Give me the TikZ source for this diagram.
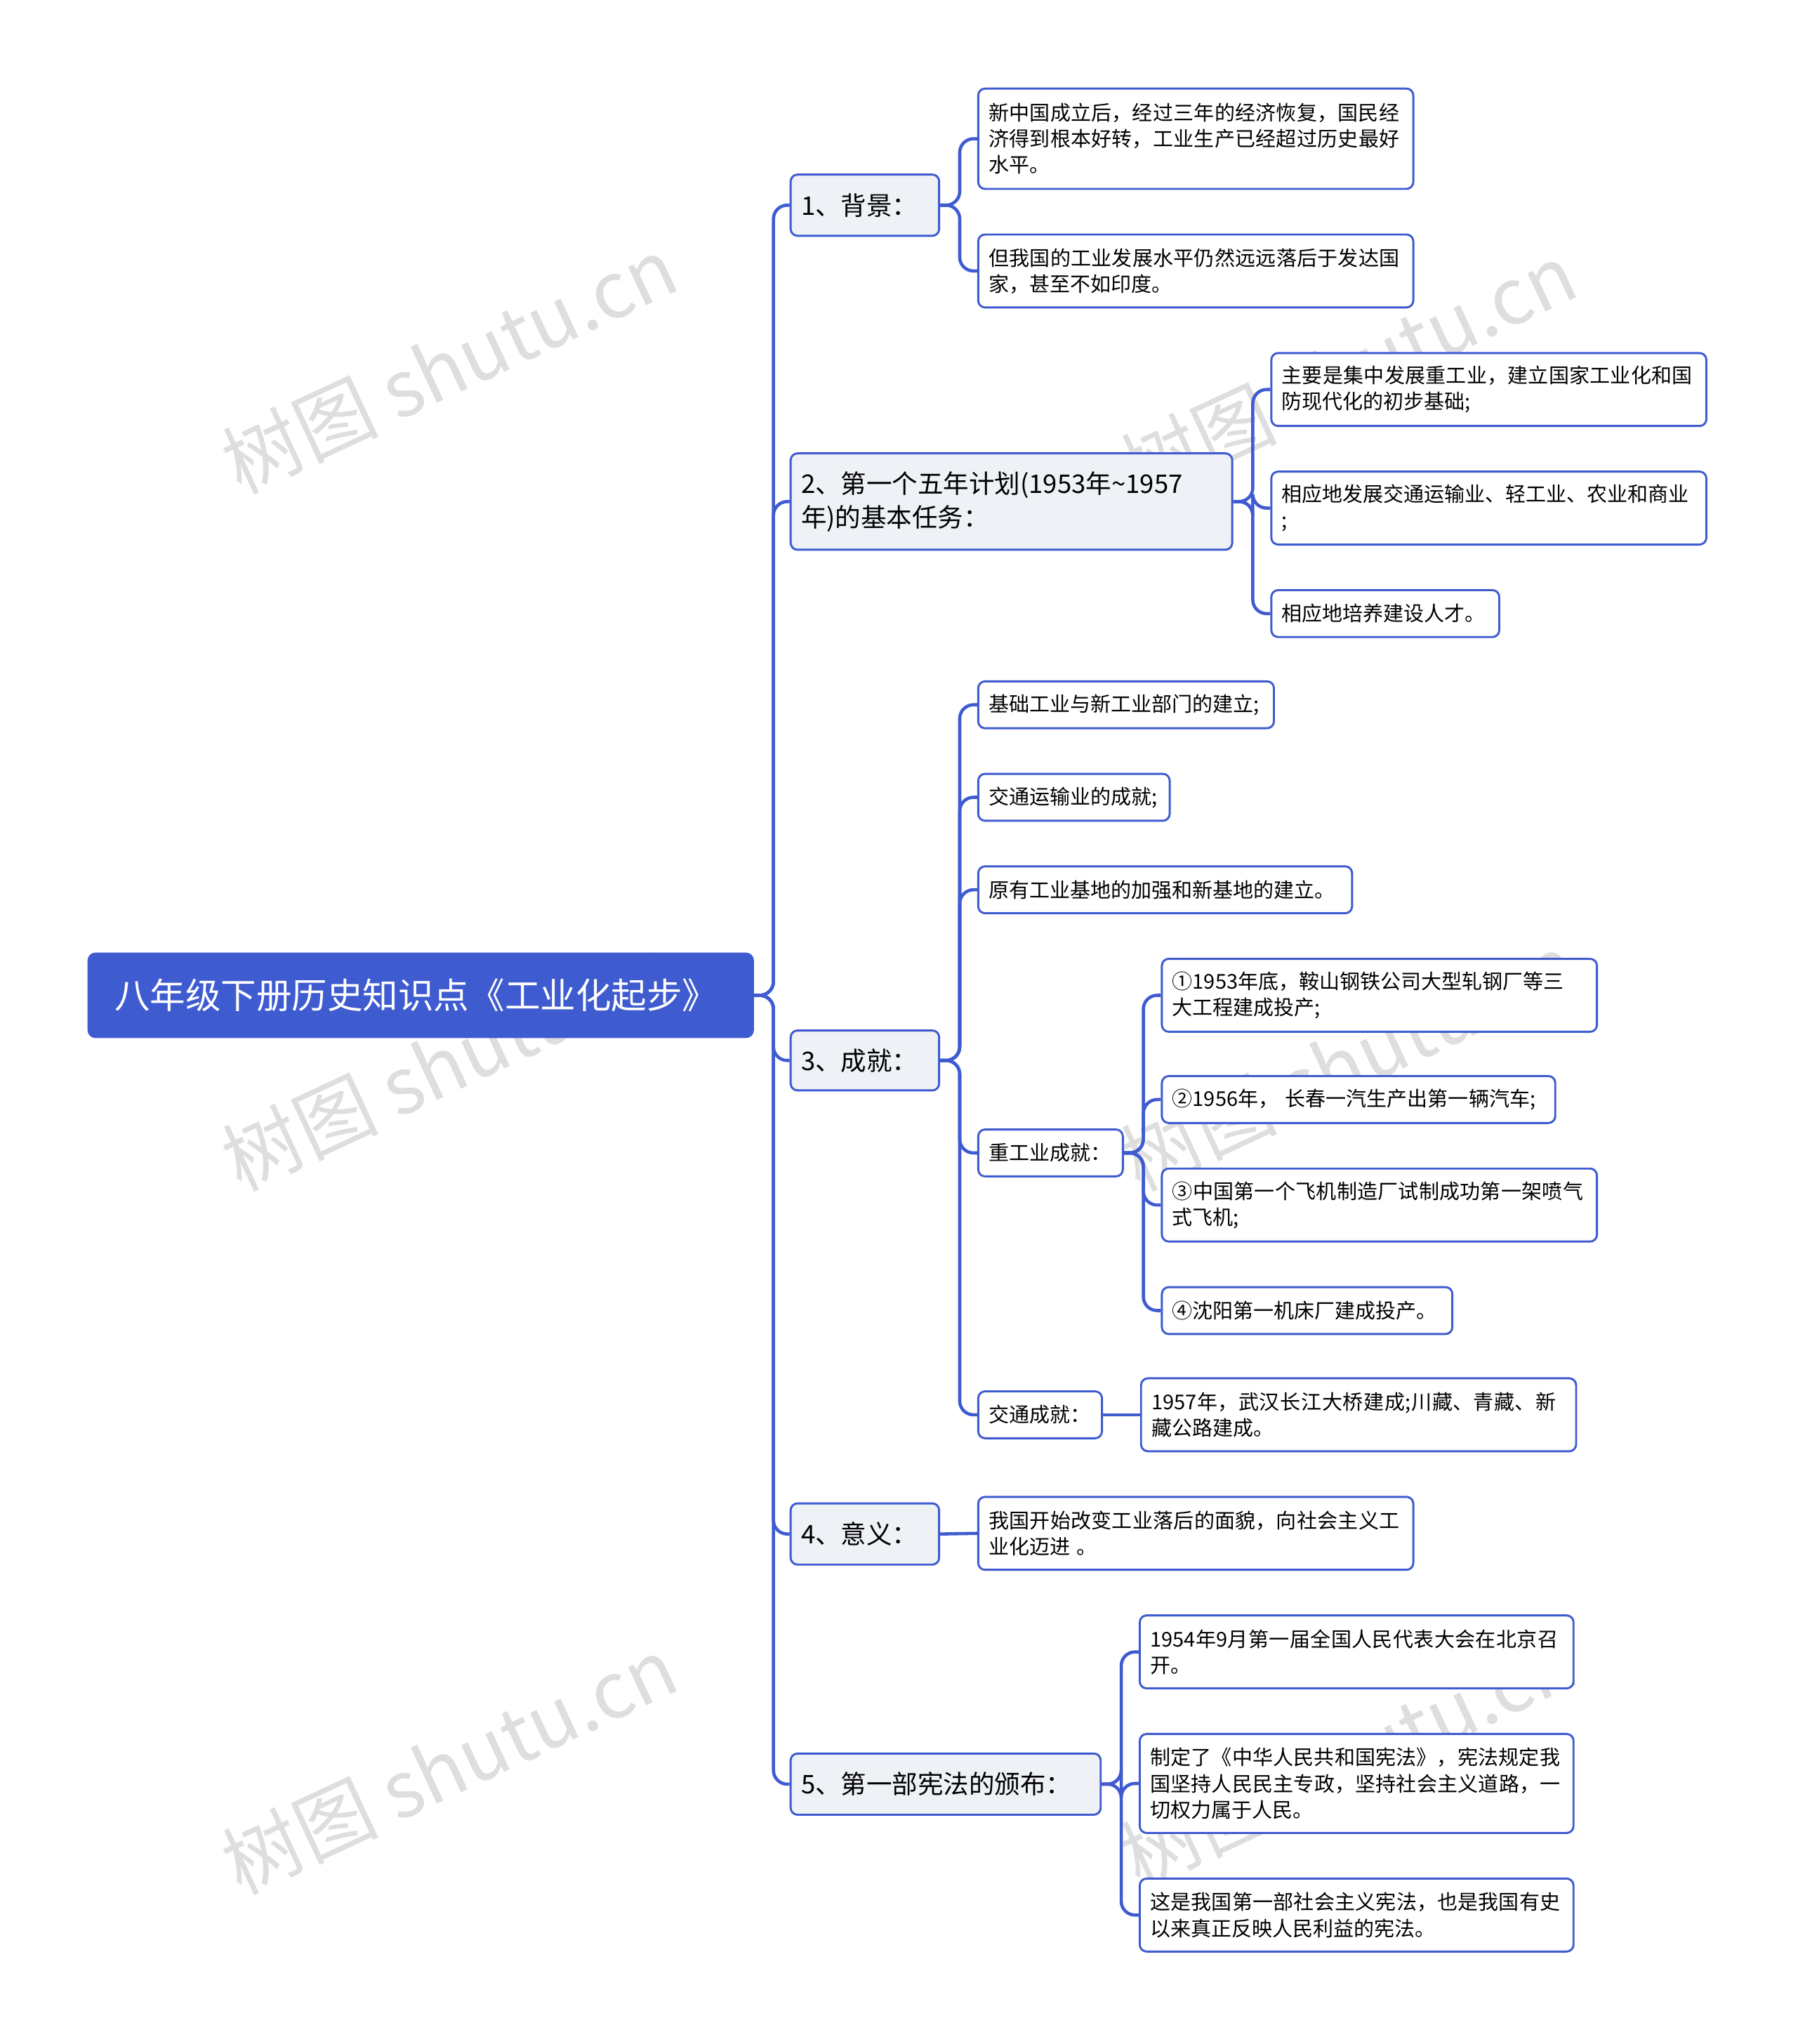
\documentclass[tikz,border=0pt]{standalone}
\usepackage{fontspec}
\setmainfont{Noto Sans CJK SC}
\XeTeXlinebreaklocale "zh"
\XeTeXlinebreakskip=0pt plus 1pt
\definecolor{mmblue}{HTML}{3F5BD0}
\definecolor{mmfill}{HTML}{EEF1F6}
% box from corner (x1,y1) to (x2,y2) in reference pixels
\newcommand\mmbox[7]{%
  \pgfmathsetmacro\ww{(#5-#3)*0.02}\pgfmathsetmacro\hh{(#6-#4)*0.02}%
  \pgfmathsetmacro\tw{\ww-0.32}%
  \node[#1,minimum width=\ww cm,minimum height=\hh cm,text width=\tw cm]
    (#2) at ({(#3+#5)/2},{(#4+#6)/2}) {#7};}
\begin{document}
\begin{tikzpicture}[x=0.02cm,y=-0.02cm,
  leaf/.style={draw=mmblue,fill=white,rounded corners=3pt,line width=0.9pt,
    font=\fontsize{8.9}{11.4}\selectfont,align=left,inner xsep=0.16cm,inner ysep=0pt},
  topic/.style={leaf,fill=mmfill,font=\fontsize{11.2}{14.7}\selectfont},
  root node/.style={leaf,fill=mmblue,draw=mmblue,text=white,font=\fontsize{15.5}{18}\selectfont},
  link/.style={draw=mmblue,line width=1.4pt,rounded corners=6pt},
  wmark/.style={text=black!13,font=\fontsize{34}{34}\selectfont,rotate=25}]
\useasboundingbox (0,0) rectangle (1380,1569);
% watermarks
\foreach \px/\py in {345/280,1035/285,345/815,1035/815,345/1355,1035/1350}
  \node[wmark] at (\px,\py) {树图 shutu.cn};
\mmbox{root node}{root}{68}{732}{578}{796}{\hspace{0.24cm}八年级下册历史知识点《工业化起步》}
\mmbox{topic}{t1}{607}{134}{721}{181}{\mbox{1、背景：}}
\mmbox{topic}{t2}{607}{348}{946}{422}{2、第一个五年计划(1953年\textasciitilde1957\\年)的基本任务：}
\mmbox{topic}{t3}{607}{791}{721}{837}{\mbox{3、成就：}}
\mmbox{topic}{t4}{607}{1154}{721}{1201}{\mbox{4、意义：}}
\mmbox{topic}{t5}{607}{1346}{845}{1393}{\mbox{5、第一部宪法的颁布：}}
\mmbox{leaf}{b1}{751}{68}{1085}{145}{新中国成立后，经过三年的经济恢复，国民经济得到根本好转，工业生产已经超过历史最好水平。}
\mmbox{leaf}{b2}{751}{180}{1085}{236}{但我国的工业发展水平仍然远远落后于发达国家，甚至不如印度。}
\mmbox{leaf}{p1}{976}{271}{1310}{327}{主要是集中发展重工业，建立国家工业化和国防现代化的初步基础;}
\mmbox{leaf}{p2}{976}{362}{1310}{418}{相应地发展交通运输业、轻工业、农业和商业\\;}
\mmbox{leaf}{p3}{976}{453}{1151}{489}{\mbox{相应地培养建设人才。}}
\mmbox{leaf}{a1}{751}{523}{978}{559}{\mbox{基础工业与新工业部门的建立;}}
\mmbox{leaf}{a2}{751}{594}{898}{630}{\mbox{交通运输业的成就;}}
\mmbox{leaf}{a3}{751}{665}{1038}{701}{\mbox{原有工业基地的加强和新基地的建立。}}
\mmbox{leaf}{a4}{751}{867}{862}{903}{\mbox{重工业成就：}}
\mmbox{leaf}{a5}{751}{1068}{846}{1104}{\mbox{交通成就：}}
\mmbox{leaf}{h1}{892}{736}{1226}{792}{①1953年底，鞍山钢铁公司大型轧钢厂等三\\大工程建成投产;}
\mmbox{leaf}{h2}{892}{826}{1194}{862}{\mbox{②1956年，\ 长春一汽生产出第一辆汽车;}}
\mmbox{leaf}{h3}{892}{897}{1226}{953}{③中国第一个飞机制造厂试制成功第一架喷气式飞机;}
\mmbox{leaf}{h4}{892}{988}{1115}{1024}{\mbox{④沈阳第一机床厂建成投产。}}
\mmbox{leaf}{j1}{876}{1058}{1210}{1114}{1957年，武汉长江大桥建成;川藏、青藏、新藏公路建成。}
\mmbox{leaf}{s1}{751}{1149}{1085}{1205}{我国开始改变工业落后的面貌，向社会主义工业化迈进 。}
\mmbox{leaf}{c1}{875}{1240}{1208}{1296}{1954年9月第一届全国人民代表大会在北京召开。}
\mmbox{leaf}{c2}{875}{1331}{1208}{1407}{制定了《中华人民共和国宪法》，宪法规定我国坚持人民民主专政，坚持社会主义道路，一切权力属于人民。}
\mmbox{leaf}{c3}{875}{1442}{1208}{1498}{这是我国第一部社会主义宪法，也是我国有史以来真正反映人民利益的宪法。}
% connectors
\foreach \c in {t1,t2,t3,t4,t5} \draw[link] (root.east) -- ++(15,0) |- (\c.west);
\foreach \c in {b1,b2} \draw[link] (t1.east) -- ++(15,0) |- (\c.west);
\foreach \c in {p1,p2,p3} \draw[link] (t2.east) -- ++(15,0) |- (\c.west);
\foreach \c in {a1,a2,a3,a4,a5} \draw[link] (t3.east) -- ++(15,0) |- (\c.west);
\foreach \c in {h1,h2,h3,h4} \draw[link] (a4.east) -- ++(15,0) |- (\c.west);
\draw[link] (a5.east) -- (j1.west);
\draw[link] (t4.east) -- (s1.west);
\foreach \c in {c1,c2,c3} \draw[link] (t5.east) -- ++(15,0) |- (\c.west);
\end{tikzpicture}
\end{document}
